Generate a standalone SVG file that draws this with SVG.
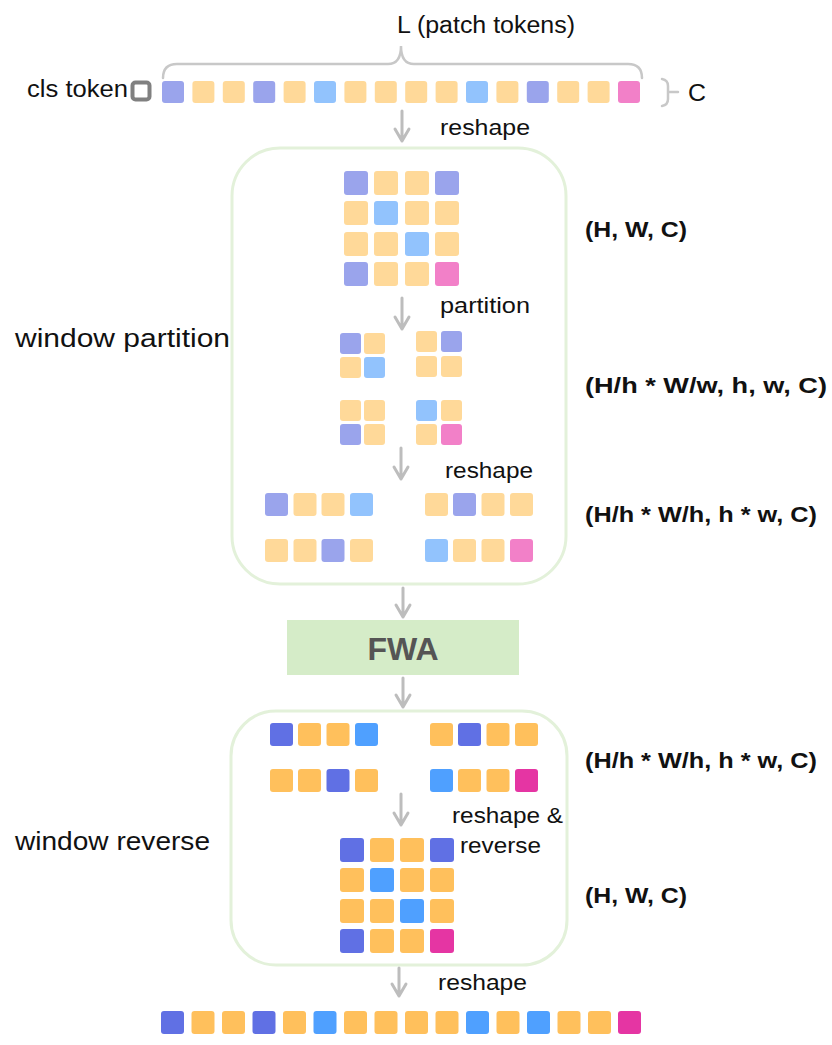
<svg xmlns="http://www.w3.org/2000/svg" width="832" height="1045" viewBox="0 0 832 1045">
<style>
.p{fill:#9AA4EC}.y{fill:#FFD999}.b{fill:#92C3FD}.k{fill:#F280C8}
.P{fill:#6070E4}.O{fill:#FFC05C}.B{fill:#4FA0FF}.M{fill:#E535A3}
.box{fill:none;stroke:#E3F1DA;stroke-width:3}
.arr{fill:none;stroke:#BDBDBD;stroke-width:3;stroke-linecap:round;stroke-linejoin:round}
.br{fill:none;stroke:#C8C8C8;stroke-width:2.5;stroke-linecap:round}
.t{font-family:"Liberation Sans",Arial,sans-serif;fill:#111}
.tb{font-family:"Liberation Sans",Arial,sans-serif;font-weight:bold;fill:#111}
</style>
<rect width="832" height="1045" fill="#fff"/>
<g id="labels">
<text class="t" x="397" y="33" font-size="23" textLength="178" lengthAdjust="spacingAndGlyphs">L (patch tokens)</text>
<text class="t" x="27" y="97" font-size="23" textLength="101" lengthAdjust="spacingAndGlyphs">cls token</text>
<text class="t" x="688" y="101" font-size="24" textLength="18" lengthAdjust="spacingAndGlyphs">C</text>
<text class="t" x="440" y="135" font-size="22.5" textLength="90" lengthAdjust="spacingAndGlyphs">reshape</text>
<text class="t" x="440" y="313" font-size="22.5" textLength="90" lengthAdjust="spacingAndGlyphs">partition</text>
<text class="t" x="445" y="478" font-size="22.5" textLength="88" lengthAdjust="spacingAndGlyphs">reshape</text>
<text class="t" x="452" y="823" font-size="22.5" textLength="111" lengthAdjust="spacingAndGlyphs">reshape &amp;</text>
<text class="t" x="460" y="853" font-size="22.5" textLength="81" lengthAdjust="spacingAndGlyphs">reverse</text>
<text class="t" x="438" y="990" font-size="22.5" textLength="89" lengthAdjust="spacingAndGlyphs">reshape</text>
<text class="t" x="15" y="347" font-size="25.5" textLength="215" lengthAdjust="spacingAndGlyphs">window partition</text>
<text class="t" x="15" y="850" font-size="25.5" textLength="195" lengthAdjust="spacingAndGlyphs">window reverse</text>
<text class="tb" x="585" y="237" font-size="22" textLength="102" lengthAdjust="spacingAndGlyphs">(H, W, C)</text>
<text class="tb" x="585" y="393" font-size="22" textLength="242" lengthAdjust="spacingAndGlyphs">(H/h * W/w, h, w, C)</text>
<text class="tb" x="585" y="522" font-size="22" textLength="232" lengthAdjust="spacingAndGlyphs">(H/h * W/h, h * w, C)</text>
<text class="tb" x="585" y="768" font-size="22" textLength="232" lengthAdjust="spacingAndGlyphs">(H/h * W/h, h * w, C)</text>
<text class="tb" x="585" y="903" font-size="22" textLength="102" lengthAdjust="spacingAndGlyphs">(H, W, C)</text>
</g>
<g id="braces">
<path class="br" d="M163,78 Q163,64 177,64 L388,64 Q401,64 401,46 Q401,64 414,64 L628,64 Q642,64 642,78"/>
<path class="br" d="M662,79 Q668,80 668,86 L668,92 L678,92 M668,92 L668,99 Q668,105 662,106"/>
</g>
<g id="cls-token">
<rect x="132.5" y="82.5" width="17" height="17" rx="3" fill="none" stroke="#808080" stroke-width="4"/>
</g>
<g id="input-tokens">
<rect class="p" x="162" y="81" width="22" height="22" rx="3"/>
<rect class="y" x="192.4" y="81" width="22" height="22" rx="3"/>
<rect class="y" x="222.8" y="81" width="22" height="22" rx="3"/>
<rect class="p" x="253.2" y="81" width="22" height="22" rx="3"/>
<rect class="y" x="283.6" y="81" width="22" height="22" rx="3"/>
<rect class="b" x="314" y="81" width="22" height="22" rx="3"/>
<rect class="y" x="344.4" y="81" width="22" height="22" rx="3"/>
<rect class="y" x="374.8" y="81" width="22" height="22" rx="3"/>
<rect class="y" x="405.2" y="81" width="22" height="22" rx="3"/>
<rect class="y" x="435.6" y="81" width="22" height="22" rx="3"/>
<rect class="b" x="466" y="81" width="22" height="22" rx="3"/>
<rect class="y" x="496.4" y="81" width="22" height="22" rx="3"/>
<rect class="p" x="526.8" y="81" width="22" height="22" rx="3"/>
<rect class="y" x="557.2" y="81" width="22" height="22" rx="3"/>
<rect class="y" x="587.6" y="81" width="22" height="22" rx="3"/>
<rect class="k" x="618" y="81" width="22" height="22" rx="3"/>
</g>
<g id="window-partition">
<rect class="box" x="232" y="148" width="334" height="436" rx="48"/>
<g id="grid-hwc">
<rect class="p" x="344" y="171" width="24" height="24" rx="3"/>
<rect class="y" x="374" y="171" width="24" height="24" rx="3"/>
<rect class="y" x="405" y="171" width="24" height="24" rx="3"/>
<rect class="p" x="435" y="171" width="24" height="24" rx="3"/>
<rect class="y" x="344" y="201" width="24" height="24" rx="3"/>
<rect class="b" x="374" y="201" width="24" height="24" rx="3"/>
<rect class="y" x="405" y="201" width="24" height="24" rx="3"/>
<rect class="y" x="435" y="201" width="24" height="24" rx="3"/>
<rect class="y" x="344" y="232" width="24" height="24" rx="3"/>
<rect class="y" x="374" y="232" width="24" height="24" rx="3"/>
<rect class="b" x="405" y="232" width="24" height="24" rx="3"/>
<rect class="y" x="435" y="232" width="24" height="24" rx="3"/>
<rect class="p" x="344" y="262" width="24" height="24" rx="3"/>
<rect class="y" x="374" y="262" width="24" height="24" rx="3"/>
<rect class="y" x="405" y="262" width="24" height="24" rx="3"/>
<rect class="k" x="435" y="262" width="24" height="24" rx="3"/>
</g>
<g id="windows">
<rect class="p" x="340" y="333" width="21" height="21" rx="3"/>
<rect class="y" x="364" y="333" width="21" height="21" rx="3"/>
<rect class="y" x="340" y="357" width="21" height="21" rx="3"/>
<rect class="b" x="364" y="357" width="21" height="21" rx="3"/>
<rect class="y" x="416" y="331" width="21" height="21" rx="3"/>
<rect class="p" x="441" y="331" width="21" height="21" rx="3"/>
<rect class="y" x="416" y="356" width="21" height="21" rx="3"/>
<rect class="y" x="441" y="356" width="21" height="21" rx="3"/>
<rect class="y" x="340" y="400" width="21" height="21" rx="3"/>
<rect class="y" x="364" y="400" width="21" height="21" rx="3"/>
<rect class="p" x="340" y="424" width="21" height="21" rx="3"/>
<rect class="y" x="364" y="424" width="21" height="21" rx="3"/>
<rect class="b" x="416" y="400" width="21" height="21" rx="3"/>
<rect class="y" x="441" y="400" width="21" height="21" rx="3"/>
<rect class="y" x="416" y="424" width="21" height="21" rx="3"/>
<rect class="k" x="441" y="424" width="21" height="21" rx="3"/>
</g>
<g id="rows-a">
<rect class="p" x="265" y="493" width="23" height="23" rx="3"/>
<rect class="y" x="293.5" y="493" width="23" height="23" rx="3"/>
<rect class="y" x="321.5" y="493" width="23" height="23" rx="3"/>
<rect class="b" x="350" y="493" width="23" height="23" rx="3"/>
<rect class="y" x="425" y="493" width="23" height="23" rx="3"/>
<rect class="p" x="453" y="493" width="23" height="23" rx="3"/>
<rect class="y" x="481.5" y="493" width="23" height="23" rx="3"/>
<rect class="y" x="510" y="493" width="23" height="23" rx="3"/>
<rect class="y" x="265" y="539" width="23" height="23" rx="3"/>
<rect class="y" x="293.5" y="539" width="23" height="23" rx="3"/>
<rect class="p" x="321.5" y="539" width="23" height="23" rx="3"/>
<rect class="y" x="350" y="539" width="23" height="23" rx="3"/>
<rect class="b" x="425" y="539" width="23" height="23" rx="3"/>
<rect class="y" x="453" y="539" width="23" height="23" rx="3"/>
<rect class="y" x="481.5" y="539" width="23" height="23" rx="3"/>
<rect class="k" x="510" y="539" width="23" height="23" rx="3"/>
</g>
</g>
<g id="fwa">
<rect x="287" y="620" width="232" height="55" fill="#D5ECC8"/>
<text x="403" y="660" font-family="'Liberation Sans',Arial,sans-serif" font-weight="bold" font-size="32" fill="#555555" text-anchor="middle">FWA</text>
</g>
<g id="window-reverse">
<rect class="box" x="231" y="711" width="336" height="254" rx="45"/>
<g id="rows-b">
<rect class="P" x="270" y="723" width="23" height="23" rx="3"/>
<rect class="O" x="298" y="723" width="23" height="23" rx="3"/>
<rect class="O" x="326.5" y="723" width="23" height="23" rx="3"/>
<rect class="B" x="355" y="723" width="23" height="23" rx="3"/>
<rect class="O" x="430" y="723" width="23" height="23" rx="3"/>
<rect class="P" x="458" y="723" width="23" height="23" rx="3"/>
<rect class="O" x="486.5" y="723" width="23" height="23" rx="3"/>
<rect class="O" x="515" y="723" width="23" height="23" rx="3"/>
<rect class="O" x="270" y="769" width="23" height="23" rx="3"/>
<rect class="O" x="298" y="769" width="23" height="23" rx="3"/>
<rect class="P" x="326.5" y="769" width="23" height="23" rx="3"/>
<rect class="O" x="355" y="769" width="23" height="23" rx="3"/>
<rect class="B" x="430" y="769" width="23" height="23" rx="3"/>
<rect class="O" x="458" y="769" width="23" height="23" rx="3"/>
<rect class="O" x="486.5" y="769" width="23" height="23" rx="3"/>
<rect class="M" x="515" y="769" width="23" height="23" rx="3"/>
</g>
<g id="grid-hwc-out">
<rect class="P" x="340" y="838" width="24" height="24" rx="3"/>
<rect class="O" x="370" y="838" width="24" height="24" rx="3"/>
<rect class="O" x="400" y="838" width="24" height="24" rx="3"/>
<rect class="P" x="430" y="838" width="24" height="24" rx="3"/>
<rect class="O" x="340" y="868" width="24" height="24" rx="3"/>
<rect class="B" x="370" y="868" width="24" height="24" rx="3"/>
<rect class="O" x="400" y="868" width="24" height="24" rx="3"/>
<rect class="O" x="430" y="868" width="24" height="24" rx="3"/>
<rect class="O" x="340" y="899" width="24" height="24" rx="3"/>
<rect class="O" x="370" y="899" width="24" height="24" rx="3"/>
<rect class="B" x="400" y="899" width="24" height="24" rx="3"/>
<rect class="O" x="430" y="899" width="24" height="24" rx="3"/>
<rect class="P" x="340" y="929" width="24" height="24" rx="3"/>
<rect class="O" x="370" y="929" width="24" height="24" rx="3"/>
<rect class="O" x="400" y="929" width="24" height="24" rx="3"/>
<rect class="M" x="430" y="929" width="24" height="24" rx="3"/>
</g>
</g>
<g id="output-tokens">
<rect class="P" x="161" y="1011" width="23" height="23" rx="3"/>
<rect class="O" x="191.5" y="1011" width="23" height="23" rx="3"/>
<rect class="O" x="222" y="1011" width="23" height="23" rx="3"/>
<rect class="P" x="252.5" y="1011" width="23" height="23" rx="3"/>
<rect class="O" x="283" y="1011" width="23" height="23" rx="3"/>
<rect class="B" x="313.5" y="1011" width="23" height="23" rx="3"/>
<rect class="O" x="344" y="1011" width="23" height="23" rx="3"/>
<rect class="O" x="374.5" y="1011" width="23" height="23" rx="3"/>
<rect class="O" x="405" y="1011" width="23" height="23" rx="3"/>
<rect class="O" x="435.5" y="1011" width="23" height="23" rx="3"/>
<rect class="B" x="466" y="1011" width="23" height="23" rx="3"/>
<rect class="O" x="496.5" y="1011" width="23" height="23" rx="3"/>
<rect class="B" x="527" y="1011" width="23" height="23" rx="3"/>
<rect class="O" x="557.5" y="1011" width="23" height="23" rx="3"/>
<rect class="O" x="588" y="1011" width="23" height="23" rx="3"/>
<rect class="M" x="618" y="1011" width="23" height="23" rx="3"/>
</g>
<g id="connectors">
<path class="arr" d="M402,111 L402,141 M395,129 L402,141 L409,129"/>
<path class="arr" d="M402,298 L402,329 M395,317 L402,329 L409,317"/>
<path class="arr" d="M401,448 L401,479 M394,467 L401,479 L408,467"/>
<path class="arr" d="M403,588 L403,617 M396,605 L403,617 L410,605"/>
<path class="arr" d="M403,678 L403,707 M396,695 L403,707 L410,695"/>
<path class="arr" d="M401,794 L401,825 M394,813 L401,825 L408,813"/>
<path class="arr" d="M399,968 L399,996 M392,984 L399,996 L406,984"/>
</g>
</svg>
